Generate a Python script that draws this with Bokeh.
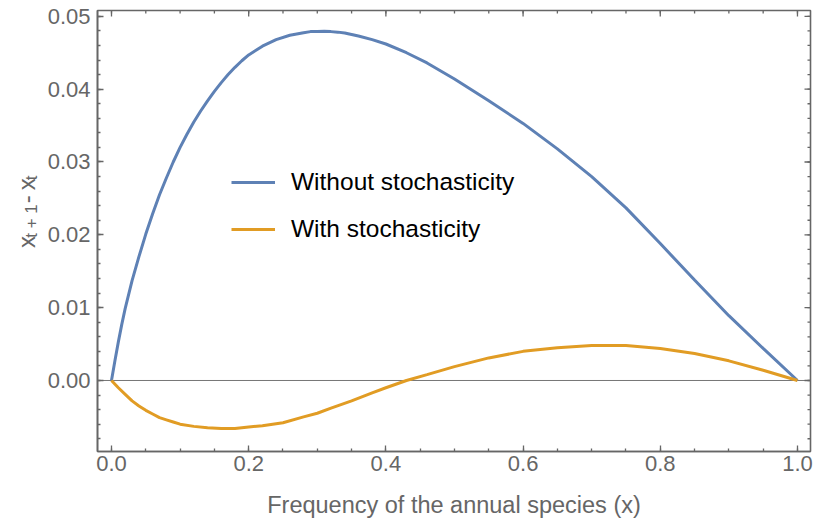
import numpy as np
from bokeh.plotting import figure
from bokeh.layouts import row
from bokeh.models import Range1d, FixedTicker, Span, Legend, LegendItem, PrintfTickFormatter
from bokeh.core.properties import value
from bokeh.embed import file_html
from bokeh.resources import INLINE

# ---- data ----
x_without = [0.0, 0.005, 0.01, 0.015, 0.02, 0.03, 0.04, 0.05, 0.06, 0.07, 0.08, 0.09, 0.10,
             0.11, 0.12, 0.13, 0.14, 0.15, 0.16, 0.17, 0.18, 0.19, 0.20, 0.22, 0.24, 0.26,
             0.28, 0.29, 0.30, 0.31, 0.32, 0.33, 0.34, 0.36, 0.38, 0.40, 0.43, 0.46, 0.50,
             0.55, 0.60, 0.65, 0.70, 0.75, 0.80, 0.85, 0.90, 0.95, 1.0]
y_without = [0.0, 0.0027, 0.0053, 0.0077, 0.0099, 0.0137, 0.0170, 0.0201, 0.0229, 0.0255,
             0.0278, 0.0300, 0.0320, 0.0338, 0.0355, 0.0370, 0.0384, 0.0397, 0.0409, 0.0420,
             0.0430, 0.0439, 0.0447, 0.0459, 0.0468, 0.0474, 0.04775, 0.0479, 0.04793,
             0.04794, 0.0479, 0.04783, 0.04772, 0.0473, 0.0468, 0.0462, 0.0450, 0.0436,
             0.0414, 0.0384, 0.0353, 0.0318, 0.0280, 0.0237, 0.0188, 0.0138, 0.0089, 0.0044,
             0.0]

x_with = [0.0, 0.01, 0.02, 0.03, 0.04, 0.05, 0.06, 0.07, 0.08, 0.09, 0.10, 0.12, 0.14, 0.16,
          0.18, 0.20, 0.22, 0.25, 0.28, 0.30, 0.32, 0.35, 0.38, 0.40, 0.43, 0.46, 0.50, 0.55,
          0.60, 0.65, 0.70, 0.72, 0.75, 0.80, 0.85, 0.90, 0.95, 1.0]
y_with = [0.0, -0.0010, -0.0019, -0.0028, -0.0035, -0.0041, -0.0046, -0.0051, -0.0054,
          -0.0057, -0.0060, -0.0063, -0.0065, -0.0066, -0.0066, -0.0064, -0.0062, -0.0058,
          -0.0050, -0.0045, -0.0038, -0.0028, -0.0017, -0.0010, 0.0, 0.0008, 0.0019, 0.0031,
          0.0040, 0.0045, 0.0048, 0.0048, 0.0048, 0.0044, 0.0037, 0.0027, 0.0014, 0.0]

x_ticks = [0.0, 0.2, 0.4, 0.6, 0.8, 1.0]
y_ticks = [0.0, 0.01, 0.02, 0.03, 0.04, 0.05]
x_minor = [round(v, 3) for v in np.arange(0.0, 1.0001, 0.05)]
y_minor = [round(v, 4) for v in np.arange(-0.008, 0.0501, 0.002)]

labels = ["Without stochasticity", "With stochasticity"]
x_label = "Frequency of the annual species (x)"
# y label "x_{t+1} - x_t" as (text, is_subscript, gap_before_em, gap_after_em)
y_label_parts = [("x", False, 0.0, 0.0), ("t + 1", True, 0.0, 0.0),
                 ("-", False, 0.3, 0.3), ("x", False, 0.0, 0.0), ("t", True, 0.0, 0.0)]

BLUE = "#5E81B5"
ORANGE = "#E19C24"
GRAY = "#666666"
FONT = "Liberation Sans"
X0, X1 = -0.0204, 1.019
Y0, Y1 = -0.00975, 0.0508

# ---------------- main plot ----------------
p = figure(width=770, height=520, output_backend="svg", toolbar_location=None,
           x_range=Range1d(X0, X1), y_range=Range1d(Y0, Y1),
           min_border_left=53, min_border_right=4, min_border_top=10, min_border_bottom=69)
p.grid.visible = False
p.outline_line_color = GRAY
p.outline_line_width = 1.6


def style(ax, ticker, fmt):
    ax.ticker = ticker
    ax.formatter = PrintfTickFormatter(format=fmt)
    ax.axis_line_color = GRAY
    ax.axis_line_width = 1.6
    ax.major_tick_line_color = GRAY
    ax.minor_tick_line_color = GRAY
    ax.major_tick_line_width = 1.3
    ax.minor_tick_line_width = 1.3
    ax.major_tick_in = 6
    ax.major_tick_out = 0
    ax.minor_tick_in = 3
    ax.minor_tick_out = 0
    ax.major_label_text_font = FONT
    ax.major_label_text_font_size = "22px"
    ax.major_label_text_color = GRAY


style(p.xaxis[0], FixedTicker(ticks=x_ticks, minor_ticks=x_minor), "%.1f")
style(p.yaxis[0], FixedTicker(ticks=y_ticks, minor_ticks=y_minor), "%.2f")
p.xaxis[0].major_label_standoff = 4
p.yaxis[0].major_label_standoff = 7
p.xaxis[0].axis_label = x_label
p.xaxis[0].axis_label_text_font = FONT
p.xaxis[0].axis_label_text_font_size = "23.5px"
p.xaxis[0].axis_label_text_font_style = "normal"
p.xaxis[0].axis_label_text_color = GRAY
p.xaxis[0].axis_label_standoff = 18

# inward ticks on the top and right frame edges (half of each dash is clipped away)
p.scatter(x=x_ticks, y=[Y1] * len(x_ticks), marker="dash", size=12, angle=np.pi / 2,
          line_color=GRAY, line_width=1.3)
p.scatter(x=x_minor, y=[Y1] * len(x_minor), marker="dash", size=6, angle=np.pi / 2,
          line_color=GRAY, line_width=1.3)
p.scatter(x=[X1] * len(y_ticks), y=y_ticks, marker="dash", size=12,
          line_color=GRAY, line_width=1.3)
p.scatter(x=[X1] * len(y_minor), y=y_minor, marker="dash", size=6,
          line_color=GRAY, line_width=1.3)

p.add_layout(Span(location=0, dimension="width", line_color="#777777", line_width=1,
                  level="underlay"))

r1 = p.line(x_without, y_without, line_color=BLUE, line_width=3)
r2 = p.line(x_with, y_with, line_color=ORANGE, line_width=3)

legend = Legend(items=[LegendItem(label=labels[0], renderers=[r1]),
                       LegendItem(label=labels[1], renderers=[r2])],
                location=(134, 208), glyph_width=44, glyph_height=20, label_height=20,
                spacing=19, padding=0, margin=0, label_standoff=16,
                label_text_font=FONT, label_text_font_size="24.5px", label_text_color="black",
                border_line_color=None, background_fill_alpha=0)
p.add_layout(legend)

# ---------------- y-axis label strip ----------------
q = figure(width=44, height=520, output_backend="svg", toolbar_location=None,
           x_range=Range1d(0, 44), y_range=Range1d(0, 520),
           x_axis_type=None, y_axis_type=None,
           min_border_left=0, min_border_right=0, min_border_top=0, min_border_bottom=0)
q.grid.visible = False
q.outline_line_color = None

MAIN, SUB = 24, 17
char_w = {"x": 0.5, "t": 0.278, " ": 0.278, "+": 0.584, "1": 0.556, "-": 0.333}
ypos = 240.0
for txt, is_sub, gap_before, gap_after in y_label_parts:
    size = SUB if is_sub else MAIN
    ypos += gap_before * MAIN
    q.text(x=[31 if is_sub else 26], y=[ypos], text=[txt], angle=np.pi / 2,
           text_font=value(FONT), text_font_size=value(f"{size}px"), text_color=GRAY,
           text_align="left", text_baseline="alphabetic")
    ypos += sum(char_w[c] for c in txt) * size + gap_after * MAIN

layout = row(q, p)
open("out.html", "w").write(file_html(layout, INLINE))
